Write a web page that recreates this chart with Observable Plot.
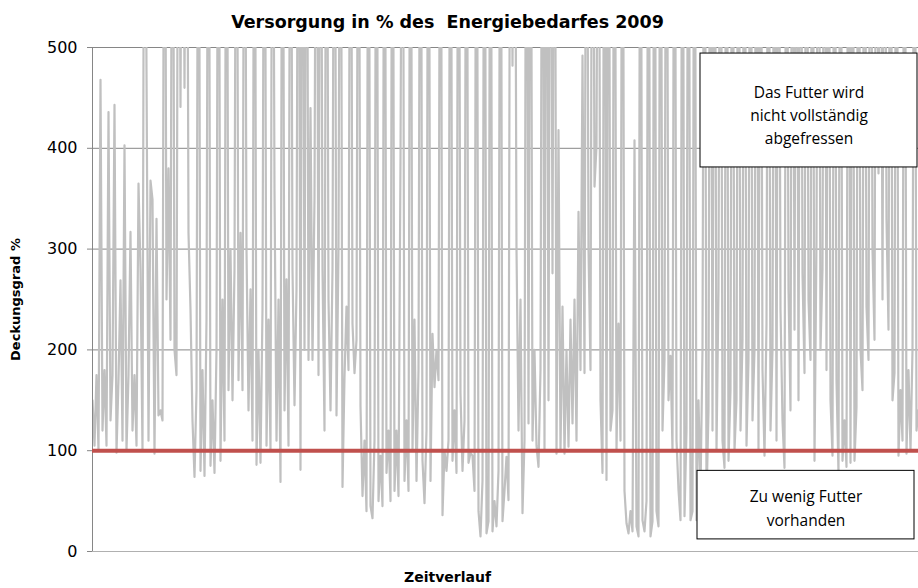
<!DOCTYPE html>
<html>
<head>
<meta charset="utf-8">
<script src="https://cdn.jsdelivr.net/npm/d3@7"></script>
<script src="https://cdn.jsdelivr.net/npm/@observablehq/plot@0.6"></script>
<style>
  html, body { margin: 0; padding: 0; background: white; }
  #chart svg { display: block; }
</style>
</head>
<body>
<div id="chart"></div>
<script>
// ---- Data ----
const titleText = "Versorgung in % des  Energiebedarfes 2009";
const yLabel = "Deckungsgrad %";
const xLabel = "Zeitverlauf";
const yTicks = [0, 100, 200, 300, 400, 500];
const threshold = 100;

// Deckungsgrad % over time (values above 500 run off the top of the chart)
const deckungsgrad = [
  150,105,175,100,468,120,180,105,436,130,
  175,443,98,170,269,110,403,100,175,317,
  120,175,105,365,279,100,900,478,110,368,
  349,97,330,135,140,130,900,250,380,210,
  900,200,175,900,441,900,460,900,316,240,
  130,74,160,900,80,180,75,230,900,85,
  150,78,200,900,90,250,110,900,160,300,
  150,280,900,170,316,160,900,300,140,260,
  110,900,86,200,88,240,900,105,230,100,
  900,358,110,250,69,900,140,270,105,900,
  280,145,260,900,81,900,200,900,190,440,
  190,350,900,175,900,280,120,900,250,140,
  280,900,135,300,900,64,173,243,180,900,
  226,177,210,900,144,55,110,40,900,45,
  33,110,900,50,95,45,900,78,120,50,
  900,60,120,55,388,900,70,130,60,900,
  100,230,70,180,900,90,48,120,900,70,
  216,163,200,170,900,36,100,80,110,900,
  90,140,78,900,157,80,130,900,88,98,
  95,60,900,40,15,70,900,18,30,900,
  20,50,25,80,900,30,60,94,51,900,
  482,900,300,120,250,38,110,900,127,900,
  110,200,105,84,180,900,100,900,150,900,
  276,900,97,418,100,243,97,200,104,230,
  127,250,110,337,180,492,177,900,300,180,
  900,362,402,900,150,78,900,71,900,120,
  140,900,100,226,110,900,60,28,18,40,
  20,408,25,15,900,31,20,50,900,15,
  30,900,40,25,900,120,190,900,150,194,
  100,900,110,61,31,900,35,120,900,31,
  40,900,31,150,60,200,900,51,140,900,
  120,900,100,260,900,110,83,900,90,160,
  900,100,150,900,120,210,900,105,190,900,
  130,200,900,100,900,180,95,226,900,120,
  200,900,110,900,240,130,83,900,260,140,
  900,220,900,150,900,276,177,900,250,190,
  900,90,309,900,200,280,900,180,900,150,
  95,900,170,77,900,90,130,84,900,88,
  900,90,143,900,200,160,900,243,190,900,
  300,210,900,375,900,250,900,330,220,900,
  150,177,900,95,160,110,900,97,180,100,
  200,900,120,140
];

// Annotation boxes (in data units: time index / percent)
const noteText = ["Das Futter wird\nnicht vollständig\nabgefressen", "Zu wenig Futter\nvorhanden"];
const noteX1 = [304, 302.5];
const noteX2 = [412.5, 411];
const noteY1 = [381, 12];
const noteY2 = [494, 80];
const noteTextY = [434.5, 44.6];

const series = deckungsgrad.map((v, i) => ({t: i, v}));
const notes = noteText.map((text, i) => ({
  text, x1: noteX1[i], x2: noteX2[i], y1: noteY1[i], y2: noteY2[i], ty: noteTextY[i]
}));

const sans = "'DejaVu Sans', 'Liberation Sans', Arial, sans-serif";

const chart = Plot.plot({
  width: 918,
  height: 588,
  marginLeft: 92,
  marginRight: 0,
  marginTop: 47,
  marginBottom: 37,
  style: {fontFamily: sans, background: "white", overflow: "visible"},
  x: {domain: [0, deckungsgrad.length - 1], axis: null},
  y: {domain: [0, 500], axis: null},
  marks: [
    Plot.gridY(yTicks.filter(d => d > 0), {stroke: "#868686", strokeOpacity: 1}),
    Plot.lineY(series, {x: "t", y: "v", stroke: "#c0c0c0", strokeWidth: 2.2, clip: true}),
    Plot.ruleY([0], {stroke: "#b0b0b0", strokeWidth: 1}),
    Plot.ruleX([0], {stroke: "#868686", strokeWidth: 1}),
    Plot.axisY({ticks: yTicks, tickSize: 5, tickPadding: 10, fontSize: 16, fontFamily: sans, label: null, stroke: "#868686", fill: "black"}),
    Plot.ruleY([threshold], {stroke: "#c0504d", strokeWidth: 4}),
    Plot.rect(notes, {x1: "x1", x2: "x2", y1: "y1", y2: "y2", fill: "white", stroke: "black", strokeWidth: 1}),
    Plot.text(notes, {x: d => (d.x1 + d.x2) / 2, y: "ty", text: "text", fontFamily: "'Open Sans', sans-serif", fontSize: 15.5, lineHeight: 1.5, fill: "black"}),
    Plot.text([titleText], {frameAnchor: "top", lineAnchor: "middle", textAnchor: "middle", dx: -58, dy: -25, fontSize: 17.5, fontWeight: "bold", fill: "black"}),
    Plot.text([xLabel], {frameAnchor: "bottom", lineAnchor: "middle", textAnchor: "middle", dx: -58, dy: 26, fontSize: 14, fontWeight: "bold", fill: "black"}),
    Plot.text([yLabel], {frameAnchor: "left", lineAnchor: "middle", textAnchor: "middle", dx: -77, rotate: -90, fontSize: 13, fontWeight: "bold", fill: "black"})
  ]
});
document.getElementById("chart").appendChild(chart);
</script>
</body>
</html>
